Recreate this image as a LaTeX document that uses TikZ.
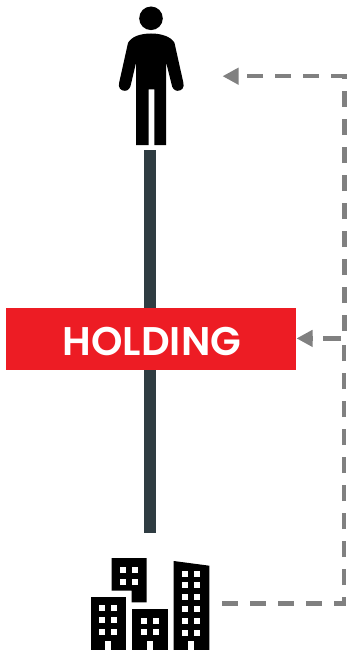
\documentclass[tikz,border=0pt]{standalone}
\usepackage{fontspec}
\newfontfamily\holdfont[UprightFont={* SemiBold}]{Poppins}
\usetikzlibrary{arrows.meta}
\definecolor{redbox}{HTML}{ED1C24}
\definecolor{stem}{HTML}{2F3C42}
\definecolor{dashgray}{HTML}{808080}
\tikzset{
  stemline/.style={draw=stem,line width=12pt},
  holdingbox/.style={fill=redbox,draw=none,minimum width=290pt,minimum height=62pt,inner sep=0pt},
  holdingtext/.style={inner sep=0pt,text=white,font=\fontsize{40}{40}\holdfont},
  feedback/.style={draw=dashgray,line width=4.2pt,dash pattern=on 16pt off 12pt},
  headed/.style={-{Triangle[length=16pt,width=16pt]}},
  win/.style={fill=white,draw=none}
}
\begin{document}
\begin{tikzpicture}[x=1pt,y=-1pt]
\useasboundingbox (0,0) rectangle (346,650);
% named anchors
\coordinate (stemTop) at (150,150);
\coordinate (stemBot) at (150,533);
\coordinate (buildOut) at (222,603.4);
\coordinate (cornerB) at (344,603.4);
\coordinate (cornerStub) at (344,597.3);
\coordinate (lowerStart) at (344,585);
\coordinate (lowerEnd) at (344,345.3);
\coordinate (upperStart) at (344.4,331);
\coordinate (cornerT) at (344.4,76.2);
\coordinate (personIn) at (222.5,76.2);
\coordinate (branch) at (341,338.4);
\draw[stemline] (stemTop) -- (stemBot);
\node[holdingbox] (holding) at (151,339) {};
\node[holdingtext] (holdingLabel) at (152,341.5) {HOLDING};
\coordinate (holdingIn) at (296.5,338.4);
% person
\fill[black] (151,18.3) circle (11.8);
\fill[black]
  (151,33.5) .. controls (140,33.5) and (131,37) .. (128,43)
  -- (119.3,82) .. controls (117.5,88) and (121,90.8) .. (125,90.8)
  .. controls (128,90.8) and (130.5,88) .. (131,84)
  -- (136.2,62) -- (136.2,145.2) -- (148.7,145.2) -- (148.7,89.3) -- (154.3,89.3)
  -- (154.3,145.2) -- (166,145.2) -- (166,62)
  -- (171.5,84) .. controls (172,88) and (174.5,90.8) .. (177.5,90.8)
  .. controls (181.5,90.8) and (185,88) .. (183.2,82)
  -- (174.5,43) .. controls (171.5,37) and (162,33.5) .. (151,33.5) -- cycle;
% buildings
\fill[black] (111.7,558) -- (146.7,558) -- (146.7,602.3) -- (131.7,602.3) -- (131.7,590.7) -- (111.7,590.7) -- cycle;
\fill[black] (90.7,596.7) rectangle (126,650);
\fill[black] (132.3,609) rectangle (167.7,650);
\fill[black] (173.7,561) -- (209.3,565.7) -- (209.3,650) -- (173.7,650) -- cycle;
\foreach \x in {120.3,132.3}\foreach \y in {566.7,578.7}\fill[win] (\x,\y) rectangle +(6,6);
\foreach \x in {99.3,111.3}\foreach \y in {605.3,617.3,629.3}\fill[win] (\x,\y) rectangle +(6,6);
\foreach \x in {141.3,153.3}\foreach \y in {617.7,629.3}\fill[win] (\x,\y) rectangle +(6,6);
\foreach \x in {182.3,194.3}\foreach \y in {571.3,582,594,606,618,630}\fill[win] (\x,\y) rectangle +(6,6);
\fill[win] (105.3,640.7) rectangle (111.3,650);
\fill[win] (147.3,640.7) rectangle (153.3,650);
\fill[win] (188.3,640.7) rectangle (194.3,650);
% connectors
\draw[feedback,dash pattern=on 16pt off 12pt on 16pt off 12pt on 16pt off 12pt on 16pt off 12pt on 30pt off 0pt] (buildOut) -- (cornerB) -- (cornerStub);
\draw[feedback] (lowerStart) -- (lowerEnd);
\draw[feedback,headed] (upperStart) -- (cornerT) -- (personIn);
\draw[feedback,headed,dash pattern=on 18pt off 10pt] (branch) -- (holdingIn);
\end{tikzpicture}
\end{document}
